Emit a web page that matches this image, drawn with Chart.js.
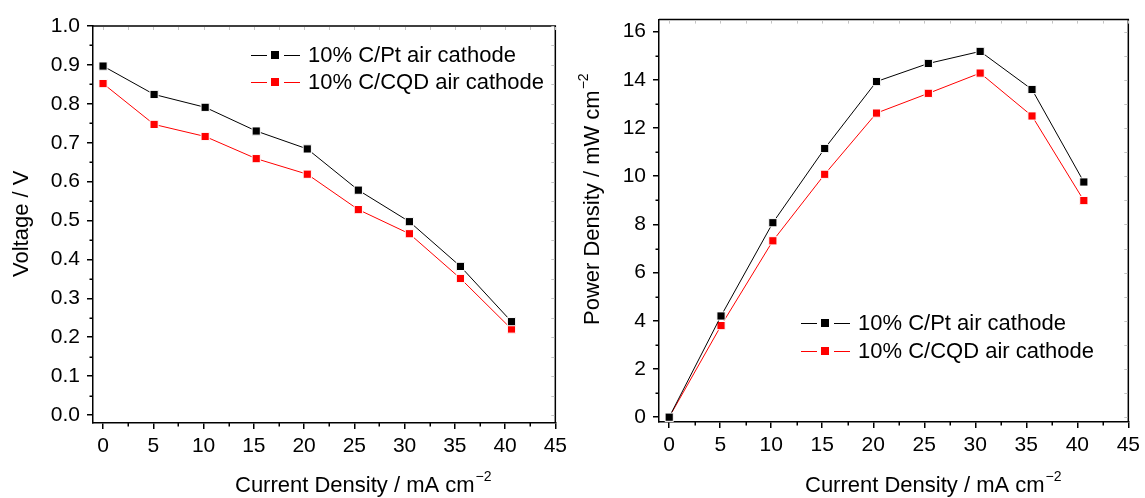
<!DOCTYPE html>
<html>
<head>
<meta charset="utf-8">
<title>Cell polarisation and power density</title>
<script src="https://cdn.jsdelivr.net/npm/chart.js@4.4.1/dist/chart.umd.min.js"></script>
<style>
  html, body { margin: 0; padding: 0; background: #fff; }
  #wrap { position: relative; width: 1145px; height: 498px; }
  .panel { position: absolute; top: 0; height: 498px; }
  #voltagePanel { left: 0; width: 572px; }
  #powerPanel { left: 572px; width: 573px; }
</style>
</head>
<body>
<div id="wrap">
  <div class="panel" id="voltagePanel"><canvas id="voltageChart"></canvas></div>
  <div class="panel" id="powerPanel"><canvas id="powerChart"></canvas></div>
</div>
<script>
// ─── Data ─────────────────────────────────────────────────────────────────────

const currentDensity = [0, 5.08, 10.16, 15.24, 20.32, 25.4, 30.48, 35.56, 40.64];

const voltagePt  = [0.897, 0.824, 0.791, 0.730, 0.684, 0.578, 0.497, 0.382, 0.240];
const voltageCqd = [0.852, 0.747, 0.716, 0.659, 0.619, 0.528, 0.466, 0.351, 0.221];

const powerPt  = [0, 4.20, 8.07, 11.15, 13.93, 14.68, 15.18, 13.60, 9.76];
const powerCqd = [0, 3.80, 7.32, 10.08, 12.62, 13.44, 14.28, 12.50, 8.99];

const seriesNames = ['10% C/Pt air cathode', '10% C/CQD air cathode'];

const currentTicks = [0, 5, 10, 15, 20, 25, 30, 35, 40, 45];
const voltageTicks = [0, 0.1, 0.2, 0.3, 0.4, 0.5, 0.6, 0.7, 0.8, 0.9, 1.0];
const powerTicks = [0, 2, 4, 6, 8, 10, 12, 14, 16];

// ─── Shared config ────────────────────────────────────────────────────────────

const FONT = "'Liberation Sans', Arial, Helvetica, sans-serif";
Chart.defaults.font.family = FONT;
Chart.defaults.color = '#000';

const colors = { pt: '#000000', cqd: '#ff0000' };

// halfway points between major ticks
const between = ticks => ticks.slice(1).map((v, i) => (v + ticks[i]) / 2);

function series(label, data, color) {
    return {
        label,
        data: currentDensity.map((x, i) => ({ x, y: data[i] })),
        borderColor: color,
        backgroundColor: color,
        borderWidth: 1,
        pointStyle: 'rect',
        pointRadius: 5.8,
        pointBackgroundColor: color,
        pointBorderColor: '#ffffff',
        pointBorderWidth: 1,
        tension: 0,
    };
}

function axis(pos, min, max, ticks, fmt, size, pad) {
    return {
        type: 'linear',
        position: pos,
        min, max,
        afterBuildTicks: s => { s.ticks = ticks.map(value => ({ value })); },
        afterFit: s => {
            if (pos === 'left') s.width = size; else s.height = size;
        },
        grid: {
            display: true,
            drawOnChartArea: false,
            drawTicks: true,
            tickLength: 6,
            color: '#000',
            lineWidth: 1.5,
        },
        border: { display: true, color: '#000', width: 1.5 },
        ticks: {
            autoSkip: false,
            maxRotation: 0,
            padding: pad,
            font: { size: 21 },
            color: '#000',
            callback: fmt,
        },
    };
}

// top/right frame, minor ticks and the faint mirrored ticks
function frameDecor(minorX, minorY) {
    return {
        id: 'frameDecor',
        afterDraw(chart) {
            const { ctx, chartArea: a, scales: { x, y } } = chart;
            ctx.save();
            ctx.strokeStyle = '#000';
            ctx.lineWidth = 1.5;
            ctx.beginPath();
            ctx.moveTo(a.left, a.top);
            ctx.lineTo(a.right, a.top);
            ctx.lineTo(a.right, a.bottom);
            ctx.stroke();

            ctx.beginPath();
            minorX.forEach(v => {
                const px = Math.round(x.getPixelForValue(v)) + 0.25;
                ctx.moveTo(px, a.bottom);
                ctx.lineTo(px, a.bottom + 3.5);
            });
            minorY.forEach(v => {
                const py = Math.round(y.getPixelForValue(v)) + 0.25;
                ctx.moveTo(a.left, py);
                ctx.lineTo(a.left - 3.5, py);
            });
            ctx.stroke();

            ctx.strokeStyle = '#c4c4c4';
            ctx.lineWidth = 1;
            ctx.beginPath();
            x.ticks.map(t => t.value).concat(minorX).forEach(v => {
                const px = Math.round(x.getPixelForValue(v)) + 0.5;
                ctx.moveTo(px, a.top + 1);
                ctx.lineTo(px, a.top + 4);
            });
            y.ticks.map(t => t.value).concat(minorY).forEach(v => {
                const py = Math.round(y.getPixelForValue(v)) + 0.5;
                ctx.moveTo(a.right - 1, py);
                ctx.lineTo(a.right - 4, py);
            });
            ctx.stroke();
            ctx.restore();
        },
    };
}

// legend entries: line – marker – line, then the label
function lineLegend(x0, y0, rowGap) {
    return {
        id: 'lineLegend',
        afterDatasetsDraw(chart) {
            const ctx = chart.ctx;
            ctx.save();
            chart.data.datasets.forEach((ds, i) => {
                const y = y0 + i * rowGap;
                ctx.strokeStyle = ds.borderColor;
                ctx.lineWidth = 1;
                ctx.beginPath();
                ctx.moveTo(x0, y + 0.5);
                ctx.lineTo(x0 + 16, y + 0.5);
                ctx.moveTo(x0 + 33, y + 0.5);
                ctx.lineTo(x0 + 49, y + 0.5);
                ctx.stroke();
                ctx.fillStyle = ds.borderColor;
                ctx.fillRect(x0 + 20, y - 4, 8, 8);
                ctx.fillStyle = '#000';
                ctx.font = `22px ${FONT}`;
                ctx.textAlign = 'left';
                ctx.textBaseline = 'middle';
                ctx.fillText(ds.label, x0 + 57, y + 1);
            });
            ctx.restore();
        },
    };
}

// axis titles with a raised exponent
function drawTitle(ctx, x, y, rotate, main, sup) {
    ctx.save();
    ctx.translate(x, y);
    if (rotate) ctx.rotate(-Math.PI / 2);
    ctx.fillStyle = '#000';
    ctx.textAlign = 'left';
    ctx.textBaseline = 'middle';
    ctx.font = `22px ${FONT}`;
    ctx.fillText(main, 0, 0);
    if (sup) {
        const w = ctx.measureText(main).width;
        ctx.font = `14px ${FONT}`;
        ctx.fillText(sup, w + 1, -9);
    }
    ctx.restore();
}

function axisTitles(xTitle, yTitle) {
    return {
        id: 'axisTitles',
        afterDraw(chart) {
            drawTitle(chart.ctx, xTitle.x, xTitle.y, false, xTitle.text, xTitle.sup);
            drawTitle(chart.ctx, yTitle.x, yTitle.y, true, yTitle.text, yTitle.sup);
        },
    };
}

const baseOptions = {
    responsive: true,
    maintainAspectRatio: false,
    animation: false,
    devicePixelRatio: 1,
    events: [],
    plugins: { legend: { display: false }, tooltip: { enabled: false } },
};

// ─── Voltage vs current density ───────────────────────────────────────────────

new Chart(document.getElementById('voltageChart'), {
    type: 'line',
    data: {
        datasets: [
            series(seriesNames[0], voltagePt, colors.pt),
            series(seriesNames[1], voltageCqd, colors.cqd),
        ],
    },
    options: {
        ...baseOptions,
        layout: { padding: { left: 0, top: 26, right: 16, bottom: 0 } },
        scales: {
            x: axis('bottom', -1, 45, currentTicks, v => String(v), 75, 5),
            y: axis('left', -0.0205, 1.0, voltageTicks, v => v.toFixed(1), 93, 7),
        },
    },
    plugins: [
        frameDecor(between(currentTicks), between(voltageTicks)),
        lineLegend(251, 55, 27),
        axisTitles(
            { x: 235, y: 486, text: 'Current Density / mA cm', sup: '\u22122' },
            { x: 22, y: 277, text: 'Voltage / V' },
        ),
    ],
});

// ─── Power density vs current density ─────────────────────────────────────────

new Chart(document.getElementById('powerChart'), {
    type: 'line',
    data: {
        datasets: [
            series(seriesNames[0], powerPt, colors.pt),
            series(seriesNames[1], powerCqd, colors.cqd),
        ],
    },
    options: {
        ...baseOptions,
        layout: { padding: { left: 0, top: 19, right: 14, bottom: 0 } },
        scales: {
            x: axis('bottom', -1, 45, currentTicks, v => String(v), 76, 5),
            y: axis('left', -0.2, 16.5, powerTicks, v => String(v), 87, 7),
        },
    },
    plugins: [
        frameDecor(between(currentTicks), between(powerTicks)),
        lineLegend(229, 323, 28),
        axisTitles(
            { x: 233, y: 486, text: 'Current Density / mA cm', sup: '\u22122' },
            { x: 21, y: 325, text: 'Power Density / mW cm', sup: '\u22122' },
        ),
    ],
});
</script>
</body>
</html>
